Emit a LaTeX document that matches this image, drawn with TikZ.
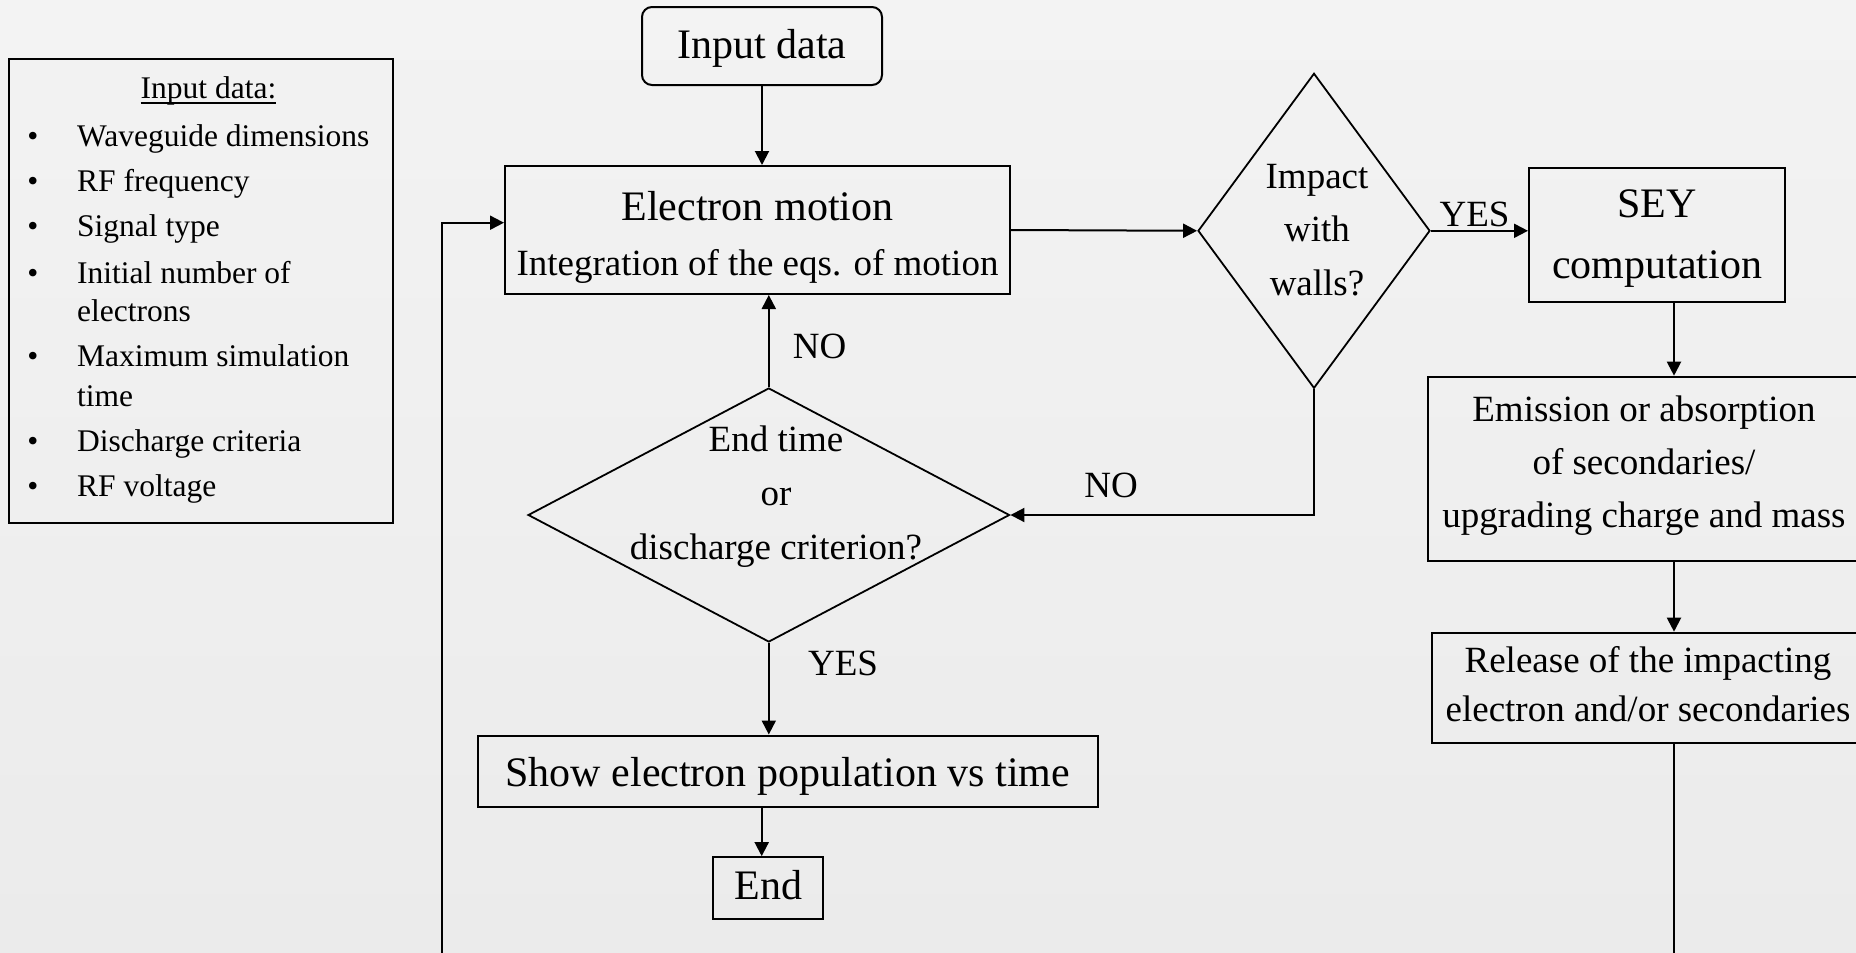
\documentclass[tikz,border=0pt]{standalone}
\usepackage{fontspec}
\setmainfont{Liberation Serif}
\usetikzlibrary{arrows.meta,shapes.geometric}
\definecolor{bgtop}{HTML}{F3F3F3}
\definecolor{bgbot}{HTML}{EBEBEB}
\newcommand\tst[1]{\rule{0pt}{#1pt}}
\newcommand\bst[1]{\rule[-#1pt]{0pt}{#1pt}}
\begin{document}
\begin{tikzpicture}[x=1pt,y=-1pt,
  box/.style={draw=black, line width=2pt, rectangle, inner sep=0pt, align=center},
  dia/.style={draw=black, line width=1.8pt, diamond, inner sep=0pt},
  arr/.style={line width=2pt, -{Triangle[length=14pt,width=14pt]}},
  ln/.style={line width=2pt},
  lbl/.style={font=\fontsize{37}{44}\selectfont, inner sep=0pt, anchor=base},
  ptxt/.style={font=\fontsize{31.5}{38}\selectfont, inner sep=0pt, anchor=base west},
  bul/.style={font=\fontsize{31.5}{38}\selectfont, inner sep=0pt, anchor=base},
]
\useasboundingbox (0,0) rectangle (1856,953);
\fill[top color=bgtop, bottom color=bgbot] (0,0) rectangle (1856,953);

% left panel
\node[draw=black, line width=2pt, minimum width=384pt, minimum height=464pt, inner sep=0pt] (panel) at (201,291) {};
\node[bul] (ttl) at (208.5,98) {Input data:};
\draw[line width=1.4pt] ([yshift=-5pt]ttl.base west) -- ([yshift=-5pt]ttl.base east);
\node[bul] (b1) at (33,146.7) {•};
\node[ptxt] (t1) at (77,146.7) {Waveguide dimensions};
\node[bul] (b2) at (33,191.7) {•};
\node[ptxt] (t2) at (77,191.7) {RF frequency};
\node[bul] (b3) at (33,236.7) {•};
\node[ptxt] (t3) at (77,236.7) {Signal type};
\node[bul] (b4) at (33,283.3) {•};
\node[ptxt] (t4) at (77,283.3) {Initial number of};
\node[ptxt] (t4b) at (77,321.7) {electrons};
\node[bul] (b5) at (33,366.7) {•};
\node[ptxt] (t5) at (77,366.7) {Maximum simulation};
\node[ptxt] (t5b) at (77,406) {time};
\node[bul] (b6) at (33,451.7) {•};
\node[ptxt] (t6) at (77,451.7) {Discharge criteria};
\node[bul] (b7) at (33,496.7) {•};
\node[ptxt] (t7) at (77,496.7) {RF voltage};

% main flow
\node[box, rounded corners=10pt, font=\fontsize{42}{50}\selectfont, minimum width=240pt, minimum height=78pt] (inp) at (762,46) {\tst{34}Input data\bst{10}};
\node[box, font=\fontsize{37}{55}\selectfont, minimum width=505pt, minimum height=128pt] (em) at (757.5,230) {{\fontsize{42}{55}\selectfont\tst{45}Electron motion}\\Integration of the eqs. of motion\bst{10}};
\node[dia, minimum width=232pt, minimum height=315pt] (imp) at (1314,230.8) {};
\node[align=center, font=\fontsize{37}{53.5}\selectfont, inner sep=0pt] (imptxt) at (1317,241.5) {\tst{32}Impact\\with\\walls?\bst{32}};
\node[box, font=\fontsize{42}{61}\selectfont, minimum width=256pt, minimum height=134pt] (sey) at (1657,235) {\tst{35}SEY\\computation\bst{10}};
\node[box, font=\fontsize{37}{53}\selectfont, minimum width=432pt, minimum height=184pt] (emi) at (1644,468.7) {\tst{32}Emission or absorption\\of secondaries/\\upgrading charge and mass\bst{21.4}};
\node[box, font=\fontsize{37}{49}\selectfont, minimum width=432pt, minimum height=110pt] (rel) at (1648,687.7) {\tst{30}Release of the impacting\\electron and/or secondaries\bst{12.4}};
\node[dia, minimum width=481.5pt, minimum height=254pt] (ed) at (768.8,515) {};
\node[align=center, font=\fontsize{37}{54}\selectfont, inner sep=0pt] (edtxt) at (776,505.8) {\tst{32}End time\\or\\discharge criterion?\bst{32}};
\node[box, font=\fontsize{42}{50}\selectfont, minimum width=619.6pt, minimum height=71pt] (show) at (787.8,771) {\tst{42}Show electron population vs time\bst{10.6}};
\node[box, font=\fontsize{42}{50}\selectfont, minimum width=110pt, minimum height=61.7pt] (end) at (768.3,888) {\tst{32}End\bst{10}};

% helper coordinates
\coordinate (xr) at (1674,0);
\coordinate (xe) at (761.7,0);
\coordinate (rb) at (1674,970);
\coordinate (lb) at (441.7,970);

% connectors
\draw[arr] (inp.south) -- (inp.south |- em.north);
\draw[arr] (em.east) -- (imp.west);
\draw[arr] (imp.east) -- (imp.east -| sey.west);
\node[lbl] (yes1) at (1474.6,226.7) {YES};
\draw[arr] (xr |- sey.south) -- (xr |- emi.north);
\draw[arr] (xr |- emi.south) -- (xr |- rel.north);
\draw[ln] (xr |- rel.south) -- (rb);
\draw[arr] (lb) |- ([yshift=7.3pt]em.west);
\draw[arr] (imp.south) |- (ed.east);
\node[lbl] (no1) at (1111,497) {NO};
\draw[arr] (ed.north) -- (ed.north |- em.south);
\node[lbl] (no2) at (819.6,358) {NO};
\draw[arr] (ed.south) -- (ed.south |- show.north);
\node[lbl] (yes2) at (843,675) {YES};
\draw[arr] (xe |- show.south) -- (xe |- end.north);
\end{tikzpicture}
\end{document}
